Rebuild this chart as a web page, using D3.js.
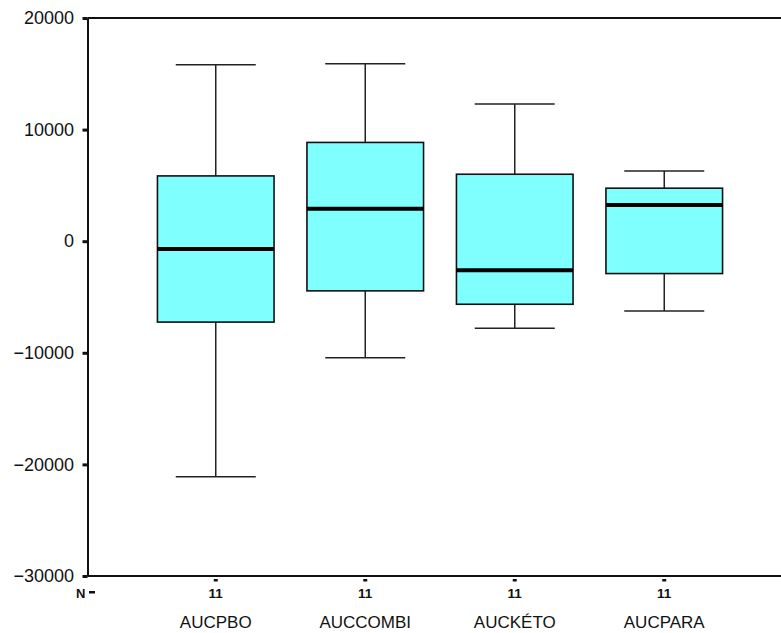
<!DOCTYPE html>
<html>
<head>
<meta charset="utf-8">
<script src="https://cdn.jsdelivr.net/npm/d3@7"></script>
<style>
  html, body { margin: 0; padding: 0; background: #fff; }
  svg { display: block; }
  text { font-family: "Liberation Sans", Arial, sans-serif; fill: #111; }
</style>
</head>
<body>
<svg id="chart" width="781" height="633"></svg>
<script>
// Box-plot summaries per variable
const categories  = ["AUCPBO", "AUCCOMBI", "AUCKÉTO", "AUCPARA"];
const whiskerHigh = [15800, 15900, 12300, 6300];
const q3          = [5850, 8850, 6000, 4750];
const median      = [-700, 2900, -2600, 3250];
const q1          = [-7250, -4450, -5650, -2900];
const whiskerLow  = [-21100, -10450, -7800, -6250];
const counts      = [11, 11, 11, 11];
const yTicks      = [20000, 10000, 0, -10000, -20000, -30000];

const boxes = categories.map((c, i) => ({
  name: c, hi: whiskerHigh[i], q3: q3[i], med: median[i], q1: q1[i], lo: whiskerLow[i], n: counts[i]
}));

const W = 781, H = 633;
const plotLeft = 87.5, plotTop = 18, plotBottom = 576;

const svg = d3.select("#chart");

const x = d3.scaleBand()
  .domain(categories)
  .range([141, 739])
  .paddingInner(0.22)
  .paddingOuter(0.11);

const y = d3.scaleLinear()
  .domain([-30000, 20000])
  .range([plotBottom, plotTop]);

const capW = 80;

// frame lines (top and bottom)
svg.append("line")
  .attr("x1", plotLeft).attr("x2", W).attr("y1", y(20000)).attr("y2", y(20000))
  .attr("stroke", "#111").attr("stroke-width", 2);
svg.append("line")
  .attr("x1", plotLeft).attr("x2", W).attr("y1", y(-30000)).attr("y2", y(-30000))
  .attr("stroke", "#111").attr("stroke-width", 2);

// y axis
const yAxis = svg.append("g")
  .attr("transform", `translate(${plotLeft},0)`)
  .call(d3.axisLeft(y).tickValues(yTicks).tickFormat(d3.format("d"))
        .tickSizeInner(5).tickSizeOuter(0).tickPadding(8.5));
yAxis.select(".domain").attr("stroke", "#111").attr("stroke-width", 2);
yAxis.selectAll(".tick line").attr("stroke", "#111").attr("stroke-width", 3);
yAxis.selectAll(".tick text")
  .style("font-family", "'Liberation Sans', Arial, sans-serif")
  .style("font-size", "18px").attr("fill", "#111");

// boxes
const g = svg.append("g");
const bx = d => x(d.name);
const cx = d => x(d.name) + x.bandwidth() / 2;

// whiskers
g.selectAll(".whisker-hi").data(boxes).join("line")
  .attr("x1", cx).attr("x2", cx).attr("y1", d => y(d.hi)).attr("y2", d => y(d.q3))
  .attr("stroke", "#222").attr("stroke-width", 1.5);
g.selectAll(".whisker-lo").data(boxes).join("line")
  .attr("x1", cx).attr("x2", cx).attr("y1", d => y(d.lo)).attr("y2", d => y(d.q1))
  .attr("stroke", "#222").attr("stroke-width", 1.5);
g.selectAll(".cap-hi").data(boxes).join("line")
  .attr("x1", d => cx(d) - capW / 2).attr("x2", d => cx(d) + capW / 2)
  .attr("y1", d => y(d.hi)).attr("y2", d => y(d.hi))
  .attr("stroke", "#222").attr("stroke-width", 1.5);
g.selectAll(".cap-lo").data(boxes).join("line")
  .attr("x1", d => cx(d) - capW / 2).attr("x2", d => cx(d) + capW / 2)
  .attr("y1", d => y(d.lo)).attr("y2", d => y(d.lo))
  .attr("stroke", "#222").attr("stroke-width", 1.5);

// box bodies
g.selectAll(".box").data(boxes).join("rect")
  .attr("x", bx).attr("width", x.bandwidth())
  .attr("y", d => y(d.q3)).attr("height", d => y(d.q1) - y(d.q3))
  .attr("fill", "#80ffff").attr("stroke", "#111").attr("stroke-width", 1.6);

// medians
g.selectAll(".median").data(boxes).join("line")
  .attr("x1", bx).attr("x2", d => bx(d) + x.bandwidth())
  .attr("y1", d => y(d.med)).attr("y2", d => y(d.med))
  .attr("stroke", "#000").attr("stroke-width", 4);

// N row
svg.append("text").attr("x", 76).attr("y", 593).attr("dy", "0.35em")
  .style("font-size", "13px").style("font-weight", "bold").text("N");
svg.append("rect").attr("x", 89).attr("y", 591).attr("width", 6).attr("height", 2.5).attr("fill", "#111");

svg.selectAll(".ntick").data(boxes).join("rect")
  .attr("x", d => cx(d) - 2).attr("y", 579).attr("width", 4).attr("height", 2.5).attr("fill", "#111");
svg.selectAll(".nlabel").data(boxes).join("text")
  .attr("x", cx).attr("y", 593).attr("dy", "0.35em").attr("text-anchor", "middle")
  .style("font-size", "13.5px").style("font-weight", "bold").text(d => d.n);

// category labels
svg.selectAll(".cat").data(boxes).join("text")
  .attr("x", cx).attr("y", 622).attr("dy", "0.35em").attr("text-anchor", "middle")
  .style("font-size", "17px").text(d => d.name);
</script>
</body>
</html>
